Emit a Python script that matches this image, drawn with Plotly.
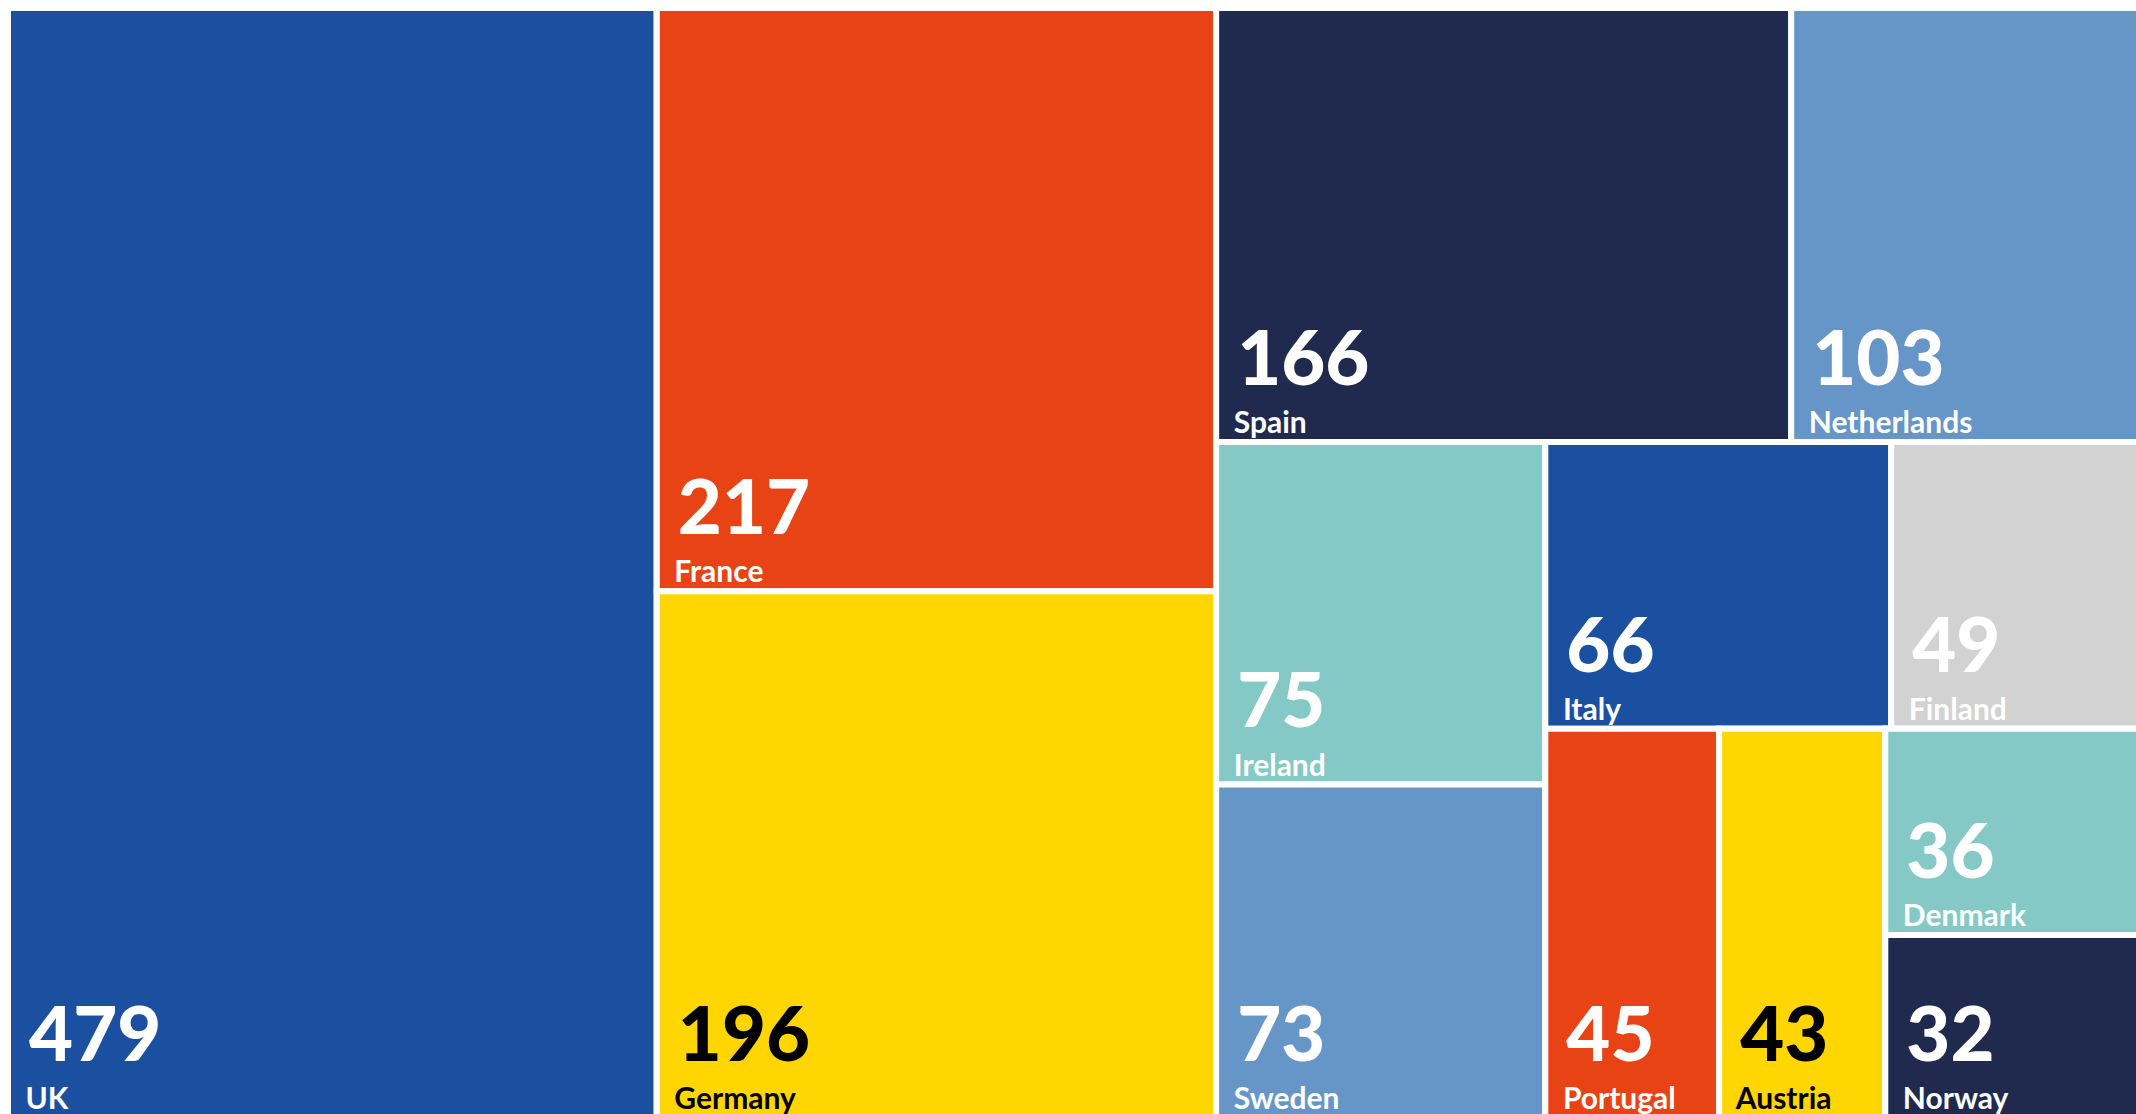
import plotly.graph_objects as go

# ---- data ----
countries = ["UK", "France", "Germany", "Spain", "Netherlands", "Ireland", "Sweden",
             "Italy", "Finland", "Portugal", "Austria", "Denmark", "Norway"]
values = [479, 217, 196, 166, 103, 75, 73, 66, 49, 45, 43, 36, 32]
tile_colors = ["#1B4F9F", "#E74315", "#FFD602", "#1F2A4E", "#6696C7", "#84C9C5", "#6696C7",
               "#1B4F9F", "#D2D2D2", "#E74315", "#FFD602", "#84C9C5", "#1F2A4E"]
text_colors = ["white", "white", "black", "white", "white", "white", "white",
               "white", "white", "white", "black", "white", "white"]

# grouping used to arrange the tiles as in the reference layout
country_parents = ["root", "G1", "G1", "R1", "R1", "C1", "C1", "R2", "R2", "G4", "G5", "C2", "C2"]
group_ids = ["G1", "G2", "R1", "G2b", "C1", "G3", "R2", "G4", "G5", "C2"]
group_parents = ["root", "root", "G2", "G2", "G2b", "G2b", "G3", "G3", "G4", "G5"]

# ---- build treemap ----
ids = ["root"] + countries + group_ids
labels = [""] + countries + ["" for _ in group_ids]
parents = [""] + country_parents + group_parents
vals = [0] + values + [0 for _ in group_ids]
colors = ["white"] + tile_colors + ["white" for _ in group_ids]
tcolors = ["white"] + text_colors + ["white" for _ in group_ids]

leaf_tpl = ("<span style='font-size:76px;font-weight:900'>\u00a0%{value}</span><br>"
            "<span style='font-size:30px;font-weight:700'>\u00a0\u00a0%{label}</span>")
templates = [""] + [leaf_tpl for _ in countries] + ["" for _ in group_ids]

fig = go.Figure(go.Treemap(
    ids=ids,
    labels=labels,
    parents=parents,
    values=vals,
    branchvalues="remainder",
    sort=False,
    marker=dict(colors=colors, line=dict(width=6, color="white"),
                pad=dict(t=0, l=0, r=0, b=0)),
    tiling=dict(packing="squarify", pad=0),
    pathbar=dict(visible=False),
    texttemplate=templates,
    textposition="bottom left",
    textfont=dict(family="Lato", size=37, color=tcolors),
    hoverinfo="skip",
))

fig.update_layout(
    width=2148, height=1118,
    margin=dict(l=8, r=0, t=8, b=0),
    paper_bgcolor="white",
)

fig.write_html(
    "out.html",
    config={"displayModeBar": False},
    post_script=("document.body.style.margin='0';"
                 "document.body.style.overflow='hidden';"
                 "document.documentElement.style.overflow='hidden';"),
)
